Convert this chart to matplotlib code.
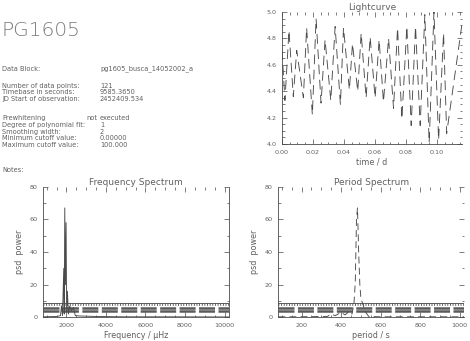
import matplotlib
matplotlib.use("Agg")
import matplotlib.pyplot as plt
from matplotlib.ticker import MultipleLocator

plt.rcParams["font.family"] = ["DejaVu Sans"]
plt.rcParams["lines.scale_dashes"] = False

INK = "#4a4a4a"
TXT = "#606060"

# light curve extrema (time in days, relative flux)
lc_time = [0.0000, 0.0019, 0.0045, 0.0073, 0.0095, 0.0138, 0.0159, 0.0196,
           0.0220, 0.0252, 0.0278, 0.0315, 0.0343, 0.0377, 0.0397, 0.0435,
           0.0455, 0.0489, 0.0511, 0.0543, 0.0569, 0.0601, 0.0627, 0.0655,
           0.0688, 0.0720, 0.0746, 0.0774, 0.0806, 0.0834, 0.0862, 0.0892,
           0.0922, 0.0950, 0.0981, 0.1011, 0.1043, 0.1063, 0.1162]
lc_flux = [4.71, 4.33, 4.86, 4.36, 4.71, 4.35, 4.88, 4.22,
           4.95, 4.31, 4.79, 4.33, 4.89, 4.30, 4.88, 4.41,
           4.76, 4.40, 4.84, 4.35, 4.81, 4.35, 4.79, 4.32,
           4.80, 4.27, 4.88, 4.19, 4.89, 4.14, 4.89, 4.14,
           4.98, 4.01, 5.00, 4.03, 4.84, 4.08, 4.91]

# frequency spectrum
freq_uhz = [830, 1500, 1700, 1750, 1800, 1866, 1890, 1916, 1950, 1983, 2010,
            2050, 2100, 2170, 2250, 2350, 2450, 2700, 3500, 5000, 7000, 10240]
freq_psd = [0.3, 0.5, 1.0, 7.0, 1.0, 30.0, 2.0, 67.0, 20.0, 58.0, 3.0,
            16.0, 2.0, 7.0, 4.0, 6.0, 1.0, 0.8, 0.5, 0.3, 0.3, 0.2]

# period spectrum
period_s = [82, 150, 250, 330, 350, 370, 400, 420, 440, 455, 465, 472, 478,
            483, 489, 495, 500, 510, 525, 540, 600, 800, 1024]
period_psd = [0.3, 0.3, 0.4, 0.5, 2.0, 1.0, 3.0, 1.5, 3.5, 2.0, 8.0, 22.0,
              60.0, 67.0, 40.0, 20.0, 12.0, 8.0, 3.0, 0.5, 0.3, 0.3, 0.3]

# significance levels drawn across both spectra
comb_level = 9.0
band_levels = [5.9, 3.7]

info_labels = ["Data Block:", "Number of data points:", "Timebase in seconds:",
               "JD Start of observation:", "Prewhitening", "Degree of polynomial fit:",
               "Smoothing width:", "Minimum cutoff value:", "Maximum cutoff value:",
               "Notes:"]
info_values = ["pg1605_busca_14052002_a", "121", "9585.3650", "2452409.534",
               "executed", "1", "2", "0.00000", "100.000", ""]
info_rows_px = [68.7, 85.7, 92.3, 99.0, 118.3, 125.0, 131.7, 138.3, 145.0, 169.5]

W, H = 470, 341
fig = plt.figure(figsize=(W / 100, H / 100), dpi=100)
fig.patch.set_facecolor("white")


def style_axes(ax, right_spine=False):
    for side in ["left", "bottom"]:
        ax.spines[side].set_color(INK)
        ax.spines[side].set_linewidth(0.6)
    ax.spines["top"].set_visible(False)
    ax.spines["right"].set_visible(right_spine)
    ax.spines["right"].set_color(INK)
    ax.spines["right"].set_linewidth(0.6)
    ax.tick_params(which="both", direction="in", top=True, right=True,
                   colors=INK, labelcolor=TXT, labelsize=4.6, width=0.5, pad=4)
    ax.tick_params(which="major", length=3.5)
    ax.tick_params(which="minor", length=1.8)


# header text
fig.text(1.7 / W, 1 - 31 / H, "PG1605", fontsize=14.5, color="#7a7a7a",
         fontweight="light", va="center", ha="left")
for lab, val, ypx in zip(info_labels, info_values, info_rows_px):
    fig.text(2 / W, 1 - ypx / H, lab, fontsize=4.8, color=TXT, va="center")
    if val:
        fig.text(100 / W, 1 - ypx / H, val, fontsize=4.8, color=TXT, va="center")
fig.text(86 / W, 1 - 118.3 / H, "not", fontsize=4.8, color=TXT, va="center")

# light curve
ax_lc = fig.add_axes([282 / W, 1 - 144 / H, 180 / W, 132 / H])
ax_lc.plot(lc_time, lc_flux, color=INK, lw=0.65, linestyle=(0, (7, 4)))
ax_lc.set_xlim(0, 0.1162)
ax_lc.set_ylim(4.0, 5.0)
ax_lc.xaxis.set_major_locator(MultipleLocator(0.02))
ax_lc.xaxis.set_minor_locator(MultipleLocator(0.005))
ax_lc.yaxis.set_major_locator(MultipleLocator(0.2))
ax_lc.yaxis.set_minor_locator(MultipleLocator(0.05))
ax_lc.xaxis.set_major_formatter(lambda v, p: f"{v:.2f}")
ax_lc.yaxis.set_major_formatter(lambda v, p: f"{v:.1f}")
style_axes(ax_lc)
ax_lc.set_title("Lightcurve", fontsize=6.5, color=TXT, pad=1.5)
ax_lc.set_xlabel("time / d", fontsize=5.8, color=TXT, labelpad=2)


def draw_levels(ax, x0, x1):
    ax.plot([x0, x1], [comb_level, comb_level], color=INK, lw=0.6)
    ax.plot([x0, x1], [comb_level - 0.9, comb_level - 0.9], color=INK, lw=2.0,
            linestyle=(0, (0.6, 1.3)))
    for lvl in band_levels:
        ax.plot([x0, x1], [lvl, lvl], color="#5a5a5a", lw=1.8,
                linestyle=(0, (11.5, 2.5)))


# frequency spectrum
ax_f = fig.add_axes([43.3 / W, 1 - 317.3 / H, 186 / W, 130.6 / H])
draw_levels(ax_f, 830, 10240)
ax_f.plot(freq_uhz, freq_psd, color=INK, lw=0.65)
ax_f.set_xlim(830, 10240)
ax_f.set_ylim(0, 80)
ax_f.xaxis.set_major_locator(MultipleLocator(2000))
ax_f.xaxis.set_minor_locator(MultipleLocator(500))
ax_f.yaxis.set_major_locator(MultipleLocator(20))
ax_f.yaxis.set_minor_locator(MultipleLocator(10))
style_axes(ax_f, right_spine=True)
ax_f.set_title("Frequency Spectrum", fontsize=6.5, color=TXT, pad=1.5)
ax_f.set_xlabel("Frequency / \u00b5Hz", fontsize=5.8, color=TXT, labelpad=2)
ax_f.set_ylabel("psd  power", fontsize=5.8, color=TXT, labelpad=4)

# period spectrum
ax_p = fig.add_axes([278.3 / W, 1 - 317.3 / H, 186 / W, 130.6 / H])
draw_levels(ax_p, 82, 1024)
ax_p.plot(period_s, period_psd, color=INK, lw=0.65, linestyle=(0, (5, 3)))
ax_p.set_xlim(82, 1024)
ax_p.set_ylim(0, 80)
ax_p.xaxis.set_major_locator(MultipleLocator(200))
ax_p.xaxis.set_minor_locator(MultipleLocator(50))
ax_p.yaxis.set_major_locator(MultipleLocator(20))
ax_p.yaxis.set_minor_locator(MultipleLocator(10))
style_axes(ax_p)
ax_p.set_title("Period Spectrum", fontsize=6.5, color=TXT, pad=1.5)
ax_p.set_xlabel("period / s", fontsize=5.8, color=TXT, labelpad=2)
ax_p.set_ylabel("psd  power", fontsize=5.8, color=TXT, labelpad=4)

fig.savefig("out.png", dpi=100)
